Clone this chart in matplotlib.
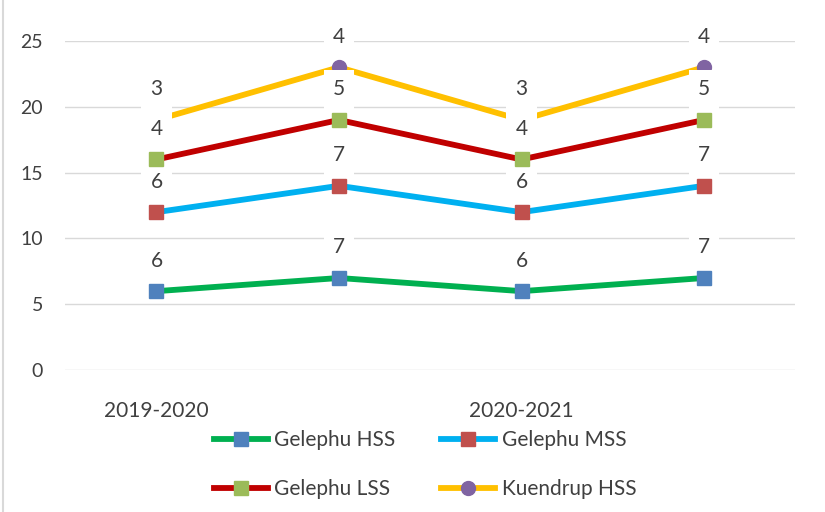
import matplotlib.pyplot as plt
from matplotlib.lines import Line2D

plt.rcParams['font.family'] = ['Lato', 'DejaVu Sans']

years = ['2019-2020', '', '2020-2021', '']
series = ['Gelephu HSS', 'Gelephu MSS', 'Gelephu LSS', 'Kuendrup HSS']
hss = [6, 7, 6, 7]
mss = [6, 7, 6, 7]
lss = [4, 5, 4, 5]
kuendrup = [3, 4, 3, 4]

line_colors = ['#00B050', '#00B0F0', '#C00000', '#FFC000']
marker_colors = ['#4F81BD', '#C0504D', '#9BBB59', '#8064A2']
markers = ['s', 's', 's', 'o']
marker_z = [7, 7, 7, 4]  # purple circles end up half hidden under labels
text_col = '#404040'

fig = plt.figure(figsize=(8.25, 5.12), dpi=100)
ax = fig.add_axes([0.079, 0.277, 0.885, 0.643])

x = list(range(len(years)))
base = [0] * len(years)
handles = []
for i, vals in enumerate([hss, mss, lss, kuendrup]):
    top = [b + v for b, v in zip(base, vals)]
    ax.plot(x, top, color=line_colors[i], lw=4.2, zorder=2 + i * 0.1,
            solid_capstyle='butt')
    ax.plot(x, top, ls='none', marker=markers[i], ms=10,
            mfc=marker_colors[i], mec=marker_colors[i], zorder=marker_z[i])
    for xi, yi, v in zip(x, top, vals):
        ax.annotate(str(v), (xi, yi), xytext=(0, 22), textcoords='offset points',
                    ha='center', va='center', fontsize=15, color=text_col,
                    zorder=6, annotation_clip=False,
                    bbox=dict(boxstyle='square,pad=0.45', fc='white', ec='none'))
    handles.append(Line2D([], [], color=line_colors[i], lw=4.2,
                          marker=markers[i], ms=10, mfc=marker_colors[i],
                          mec=marker_colors[i]))
    base = top

ax.set_xlim(-0.5, 3.5)
ax.set_ylim(0, 25)
ax.set_yticks(range(0, 26, 5))
ax.set_xticks(x)
ax.set_xticklabels(years)
ax.tick_params(length=0, labelsize=14, labelcolor=text_col)
ax.tick_params(axis='x', labelsize=15, pad=22)
ax.tick_params(axis='y', pad=16)
ax.grid(axis='y', color='#D9D9D9', lw=1)
ax.set_axisbelow(True)
for s in ax.spines.values():
    s.set_visible(False)

# legend fills row by row in the reference
order = [0, 2, 1, 3]
fig.legend([handles[k] for k in order], [series[k] for k in order],
           loc='center', bbox_to_anchor=(0.515, 0.092),
           ncol=2, frameon=False, fontsize=15, labelcolor=text_col,
           handlelength=2.6, handletextpad=0.3, columnspacing=2.2,
           labelspacing=1.4)

fig.add_artist(Line2D([0.004, 0.004], [0, 1], color='#D9D9D9', lw=1.5,
                      transform=fig.transFigure))

fig.savefig('out.png', dpi=100)
